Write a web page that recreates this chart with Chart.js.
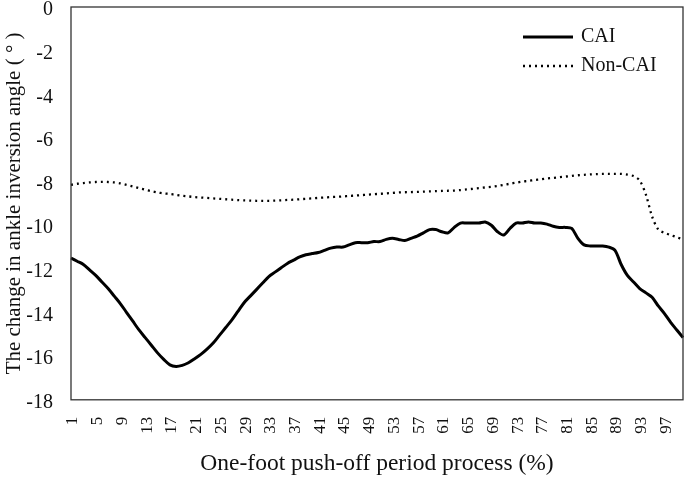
<!DOCTYPE html>
<html>
<head>
<meta charset="utf-8">
<script src="https://cdn.jsdelivr.net/npm/chart.js@4.4.1/dist/chart.umd.min.js"></script>
<style>
html, body { margin: 0; padding: 0; background: #fff; }
#wrap { width: 685px; height: 478px; }
</style>
</head>
<body>
<div id="wrap"><canvas id="angleChart"></canvas></div>
<script>
// x categories: push-off period process (%)
var processLabels = [
    1, 2, 3, 4, 5, 6, 7, 8, 9, 10, 11, 12, 13, 14, 15, 16, 17, 18, 19, 20,
    21, 22, 23, 24, 25, 26, 27, 28, 29, 30, 31, 32, 33, 34, 35, 36, 37, 38, 39, 40,
    41, 42, 43, 44, 45, 46, 47, 48, 49, 50, 51, 52, 53, 54, 55, 56, 57, 58, 59, 60,
    61, 62, 63, 64, 65, 66, 67, 68, 69, 70, 71, 72, 73, 74, 75, 76, 77, 78, 79, 80,
    81, 82, 83, 84, 85, 86, 87, 88, 89, 90, 91, 92, 93, 94, 95, 96, 97, 98, 99, 100
];

// CAI group (solid line)
var caiValues = [
    -11.50, -11.65, -11.80, -12.05, -12.30, -12.60, -12.90, -13.25, -13.60, -14.00,
    -14.40, -14.80, -15.15, -15.50, -15.85, -16.15, -16.40, -16.47, -16.42, -16.30,
    -16.12, -15.92, -15.68, -15.40, -15.05, -14.70, -14.35, -13.95, -13.55, -13.25,
    -12.95, -12.65, -12.35, -12.15, -11.95, -11.75, -11.60, -11.45, -11.35, -11.30,
    -11.25, -11.15, -11.05, -11.00, -11.00, -10.90, -10.80, -10.80, -10.80, -10.75,
    -10.75, -10.65, -10.60, -10.65, -10.70, -10.60, -10.50, -10.35, -10.20, -10.20,
    -10.30, -10.35, -10.10, -9.90, -9.90, -9.90, -9.90, -9.85, -10.00, -10.30,
    -10.45, -10.15, -9.90, -9.90, -9.85, -9.90, -9.90, -9.95, -10.05, -10.10,
    -10.10, -10.15, -10.60, -10.90, -10.95, -10.95, -10.95, -11.00, -11.15, -11.80,
    -12.30, -12.60, -12.90, -13.10, -13.30, -13.70, -14.05, -14.45, -14.80, -15.15
];

// Non-CAI group (dotted line)
var nonCaiValues = [
    -8.15, -8.10, -8.07, -8.04, -8.02, -8.01, -8.02, -8.04, -8.08, -8.15,
    -8.22, -8.30, -8.37, -8.44, -8.50, -8.54, -8.57, -8.61, -8.65, -8.68,
    -8.71, -8.73, -8.75, -8.77, -8.79, -8.81, -8.83, -8.85, -8.86, -8.87,
    -8.88, -8.88, -8.88, -8.87, -8.86, -8.84, -8.83, -8.81, -8.79, -8.77,
    -8.75, -8.73, -8.71, -8.70, -8.68, -8.66, -8.64, -8.62, -8.60, -8.58,
    -8.56, -8.54, -8.52, -8.50, -8.49, -8.48, -8.47, -8.46, -8.45, -8.44,
    -8.43, -8.42, -8.41, -8.39, -8.36, -8.33, -8.30, -8.27, -8.24, -8.20,
    -8.15, -8.10, -8.05, -8.00, -7.97, -7.93, -7.90, -7.86, -7.83, -7.80,
    -7.77, -7.74, -7.71, -7.69, -7.67, -7.66, -7.65, -7.65, -7.65, -7.65,
    -7.68, -7.75, -7.95, -8.60, -9.60, -10.20, -10.35, -10.45, -10.55, -10.65
];

var yMin = -18;
var yMax = 0;
var yStep = 2;

var serif = '"Liberation Serif", "Times New Roman", serif';

//枠と凡例をグラフの中に描く
var frameAndKey = {
    id: 'frameAndKey',
    afterDatasetsDraw: function (chart) {
        var ctx = chart.ctx;
        var a = chart.chartArea;
        ctx.save();
        ctx.strokeStyle = '#333';
        ctx.lineWidth = 1.3;
        ctx.setLineDash([]);
        ctx.strokeRect(a.left, a.top, a.right - a.left, a.bottom - a.top);

        var sets = chart.data.datasets;
        var x0 = a.right - 160;
        var x1 = a.right - 110;
        for (var i = 0; i < sets.length; i++) {
            var y = a.top + 30 + i * 29;
            ctx.beginPath();
            ctx.strokeStyle = sets[i].borderColor;
            ctx.lineWidth = sets[i].borderWidth;
            ctx.setLineDash(sets[i].borderDash || []);
            ctx.moveTo(x0, y);
            ctx.lineTo(x1, y);
            ctx.stroke();
            ctx.setLineDash([]);
            ctx.fillStyle = '#111';
            ctx.font = '20px ' + serif;
            ctx.textBaseline = 'middle';
            ctx.textAlign = 'left';
            ctx.fillText(sets[i].label, x1 + 8, y);
        }
        ctx.restore();
    }
};

var config = {
    type: 'line',
    data: {
        labels: processLabels,
        datasets: [{
            label: 'CAI',
            data: caiValues,
            borderColor: '#000',
            borderWidth: 3,
            borderDash: [],
            pointRadius: 0,
            tension: 0.3,
            fill: false
        }, {
            label: 'Non-CAI',
            data: nonCaiValues,
            borderColor: '#000',
            borderWidth: 2.3,
            borderDash: [2, 4],
            pointRadius: 0,
            tension: 0.3,
            fill: false
        }]
    },
    options: {
        responsive: true,
        maintainAspectRatio: false,
        animation: false,
        layout: {
            padding: { top: 7, right: 2, bottom: 0, left: 0 }
        },
        plugins: {
            legend: { display: false },
            tooltip: { enabled: false }
        },
        scales: {
            x: {
                offset: false,
                grid: { display: false },
                border: { display: false },
                afterFit: function (scale) {
                    scale.paddingLeft = 0;
                    scale.paddingRight = 0;
                },
                ticks: {
                    autoSkip: false,
                    minRotation: 90,
                    maxRotation: 90,
                    color: '#111',
                    font: { family: serif, size: 17 },
                    padding: 9,
                    labelOffset: 2,
                    callback: function (value, index) {
                        return index % 4 === 0 ? this.getLabelForValue(value) : '';
                    }
                },
                title: {
                    display: true,
                    text: 'One-foot push-off period process (%)',
                    color: '#111',
                    font: { family: serif, size: 23.5 },
                    padding: { top: 7, bottom: 0 }
                }
            },
            y: {
                min: yMin,
                max: yMax,
                grid: { display: false },
                border: { display: false },
                afterFit: function (scale) {
                    scale.width = 71;
                    scale.paddingTop = 0;
                    scale.paddingBottom = 0;
                },
                ticks: {
                    stepSize: yStep,
                    color: '#111',
                    font: { family: serif, size: 20 },
                    padding: 10,
                    labelOffset: 3
                },
                title: {
                    display: true,
                    text: 'The change in ankle inversion angle ( \u00B0 )',
                    color: '#111',
                    font: { family: serif, size: 21 },
                    padding: { top: 2, bottom: 0 }
                }
            }
        }
    },
    plugins: [frameAndKey]
};

//グラフを作成する
var angleChart = new Chart(document.getElementById('angleChart'), config);
</script>
</body>
</html>
